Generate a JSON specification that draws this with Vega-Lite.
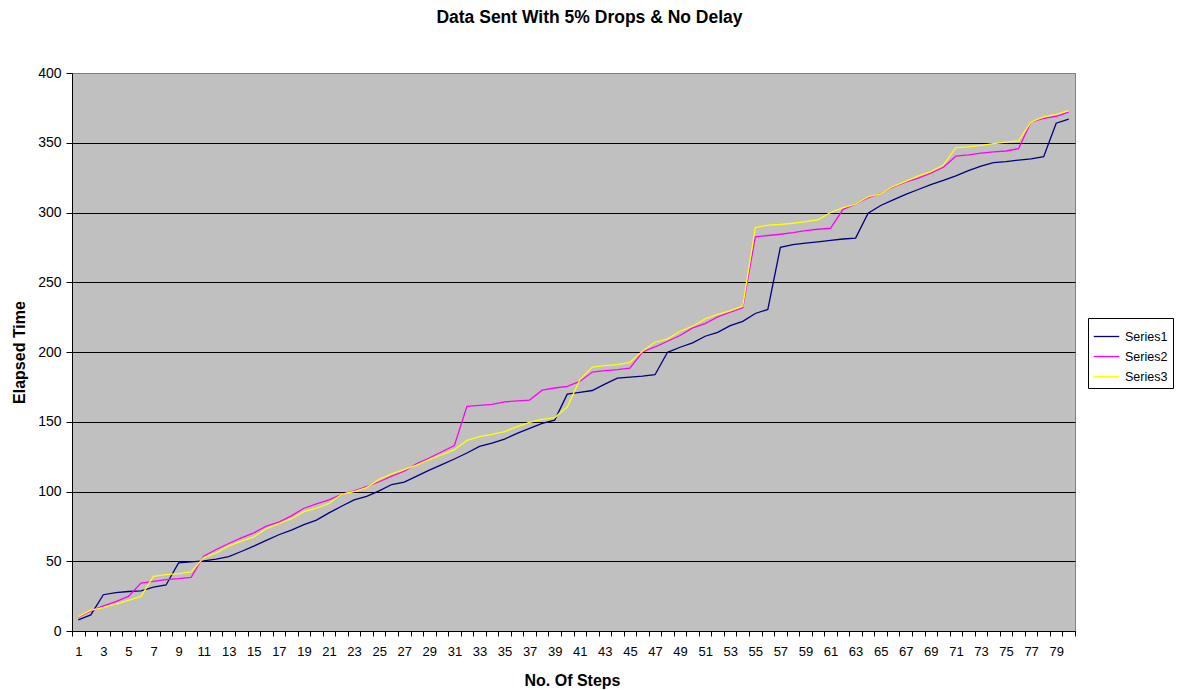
{
  "$schema": "https://vega.github.io/schema/vega-lite/v6.json",
  "width": 1003,
  "height": 558,
  "autosize": {"type": "none"},
  "padding": {"left": 72, "top": 73, "right": 109, "bottom": 59},
  "background": "white",
  "title": {
    "text": "Data Sent With 5% Drops & No Delay",
    "font": "Liberation Sans",
    "fontSize": 17.5,
    "fontWeight": "bold",
    "color": "black",
    "anchor": "middle",
    "baseline": "alphabetic",
    "offset": 26,
    "dx": 16
  },
  "config": {
    "font": "Liberation Sans",
    "view": {"fill": "#C0C0C0", "stroke": "#808080", "strokeWidth": 1}
  },
  "data": {
    "values": [
      {"step": 1, "Series1": 8, "Series2": 9.9, "Series3": 10.3},
      {"step": 2, "Series1": 11.5, "Series2": 14.4, "Series3": 15},
      {"step": 3, "Series1": 26, "Series2": 18, "Series3": 16.8},
      {"step": 4, "Series1": 27.5, "Series2": 21, "Series3": 19.2},
      {"step": 5, "Series1": 28.3, "Series2": 24.8, "Series3": 21.9},
      {"step": 6, "Series1": 28.8, "Series2": 34.4, "Series3": 24.8},
      {"step": 7, "Series1": 31.5, "Series2": 35.6, "Series3": 39.2},
      {"step": 8, "Series1": 33, "Series2": 36.8, "Series3": 40.4},
      {"step": 9, "Series1": 48.8, "Series2": 37.5, "Series3": 41.1},
      {"step": 10, "Series1": 49.5, "Series2": 38.5, "Series3": 42.3},
      {"step": 11, "Series1": 50.3, "Series2": 53.6, "Series3": 52.4},
      {"step": 12, "Series1": 51.5, "Series2": 58.4, "Series3": 56},
      {"step": 13, "Series1": 53.3, "Series2": 62.7, "Series3": 60.8},
      {"step": 14, "Series1": 57, "Series2": 66.8, "Series3": 64.4},
      {"step": 15, "Series1": 60.8, "Series2": 70.4, "Series3": 67.5},
      {"step": 16, "Series1": 65, "Series2": 75.2, "Series3": 73.3},
      {"step": 17, "Series1": 69, "Series2": 78, "Series3": 77},
      {"step": 18, "Series1": 72.3, "Series2": 82.5, "Series3": 80.5},
      {"step": 19, "Series1": 76.3, "Series2": 88, "Series3": 85.6},
      {"step": 20, "Series1": 79.5, "Series2": 91.2, "Series3": 88},
      {"step": 21, "Series1": 84.7, "Series2": 94, "Series3": 91.5},
      {"step": 22, "Series1": 89.4, "Series2": 98, "Series3": 98},
      {"step": 23, "Series1": 94, "Series2": 100.5, "Series3": 100},
      {"step": 24, "Series1": 96.5, "Series2": 103.5, "Series3": 102.8},
      {"step": 25, "Series1": 100.5, "Series2": 107, "Series3": 108.7},
      {"step": 26, "Series1": 105, "Series2": 111, "Series3": 112.7},
      {"step": 27, "Series1": 106.8, "Series2": 114.5, "Series3": 115.8},
      {"step": 28, "Series1": 111, "Series2": 120, "Series3": 118.9},
      {"step": 29, "Series1": 115.3, "Series2": 124, "Series3": 122.9},
      {"step": 30, "Series1": 119.3, "Series2": 128.5, "Series3": 126.4},
      {"step": 31, "Series1": 123.3, "Series2": 133, "Series3": 130},
      {"step": 32, "Series1": 127.6, "Series2": 161, "Series3": 136.6},
      {"step": 33, "Series1": 132.3, "Series2": 161.8, "Series3": 139.4},
      {"step": 34, "Series1": 134.7, "Series2": 162.5, "Series3": 141},
      {"step": 35, "Series1": 137.5, "Series2": 164.2, "Series3": 142.9},
      {"step": 36, "Series1": 141.7, "Series2": 164.9, "Series3": 146.5},
      {"step": 37, "Series1": 145.3, "Series2": 165.5, "Series3": 149.5},
      {"step": 38, "Series1": 148.8, "Series2": 172.6, "Series3": 151.7},
      {"step": 39, "Series1": 151.2, "Series2": 174.2, "Series3": 153},
      {"step": 40, "Series1": 169.8, "Series2": 175.3, "Series3": 160.5},
      {"step": 41, "Series1": 171, "Series2": 178.9, "Series3": 180},
      {"step": 42, "Series1": 172.4, "Series2": 185.6, "Series3": 189.2},
      {"step": 43, "Series1": 177, "Series2": 186.6, "Series3": 190.2},
      {"step": 44, "Series1": 181.3, "Series2": 187.3, "Series3": 190.9},
      {"step": 45, "Series1": 182, "Series2": 188.5, "Series3": 192.6},
      {"step": 46, "Series1": 182.7, "Series2": 200, "Series3": 200.5},
      {"step": 47, "Series1": 183.7, "Series2": 203.6, "Series3": 207},
      {"step": 48, "Series1": 199.8, "Series2": 207.7, "Series3": 209.4},
      {"step": 49, "Series1": 203.4, "Series2": 211.8, "Series3": 214.9},
      {"step": 50, "Series1": 206.5, "Series2": 217.3, "Series3": 218.5},
      {"step": 51, "Series1": 211.3, "Series2": 220.4, "Series3": 223.7},
      {"step": 52, "Series1": 214.1, "Series2": 225.2, "Series3": 226.9},
      {"step": 53, "Series1": 218.9, "Series2": 228.5, "Series3": 229.7},
      {"step": 54, "Series1": 222, "Series2": 231.7, "Series3": 232.9},
      {"step": 55, "Series1": 227.6, "Series2": 282.5, "Series3": 289.2},
      {"step": 56, "Series1": 230.5, "Series2": 283.5, "Series3": 290.9},
      {"step": 57, "Series1": 275, "Series2": 284.4, "Series3": 291.4},
      {"step": 58, "Series1": 277, "Series2": 285.5, "Series3": 292.3},
      {"step": 59, "Series1": 278, "Series2": 287, "Series3": 293.4},
      {"step": 60, "Series1": 279, "Series2": 288, "Series3": 294.8},
      {"step": 61, "Series1": 280, "Series2": 288.7, "Series3": 300},
      {"step": 62, "Series1": 281, "Series2": 302.3, "Series3": 303.5},
      {"step": 63, "Series1": 281.7, "Series2": 305.9, "Series3": 305.9},
      {"step": 64, "Series1": 299.5, "Series2": 310.6, "Series3": 311.3},
      {"step": 65, "Series1": 305, "Series2": 313.6, "Series3": 313.4},
      {"step": 66, "Series1": 309, "Series2": 318.3, "Series3": 318.8},
      {"step": 67, "Series1": 313, "Series2": 321.8, "Series3": 322.3},
      {"step": 68, "Series1": 316.5, "Series2": 324.6, "Series3": 326.3},
      {"step": 69, "Series1": 320, "Series2": 328.2, "Series3": 329.3},
      {"step": 70, "Series1": 323, "Series2": 332.4, "Series3": 334},
      {"step": 71, "Series1": 326.3, "Series2": 340.4, "Series3": 346.5},
      {"step": 72, "Series1": 330, "Series2": 341.3, "Series3": 347},
      {"step": 73, "Series1": 333.3, "Series2": 342.5, "Series3": 348.1},
      {"step": 74, "Series1": 335.7, "Series2": 343.4, "Series3": 349.3},
      {"step": 75, "Series1": 336.4, "Series2": 344.1, "Series3": 350.5},
      {"step": 76, "Series1": 337.6, "Series2": 345.8, "Series3": 351.4},
      {"step": 77, "Series1": 338.5, "Series2": 365, "Series3": 365},
      {"step": 78, "Series1": 340, "Series2": 367.4, "Series3": 368.5},
      {"step": 79, "Series1": 364, "Series2": 369, "Series3": 370.4},
      {"step": 80, "Series1": 367, "Series2": 372, "Series3": 373}
    ]
  },
  "transform": [
    {"fold": ["Series1", "Series2", "Series3"], "as": ["series", "value"]}
  ],
  "mark": {"type": "line", "strokeWidth": 1.3},
  "encoding": {
    "x": {
      "field": "step",
      "type": "ordinal",
      "scale": {"type": "band", "paddingInner": 0, "paddingOuter": 0},
      "axis": {
        "title": "No. Of Steps",
        "titleFont": "Liberation Sans",
        "titleFontSize": 16,
        "titleFontWeight": "bold",
        "titleColor": "black",
        "titleX": 500,
        "titleY": 54,
        "titleAlign": "center",
        "titleBaseline": "alphabetic",
        "labelAngle": 0,
        "labelFontSize": 13,
        "labelColor": "black",
        "labelPadding": 9,
        "labelOverlap": false,
        "labelExpr": "datum.value % 2 == 1 ? datum.label : ''",
        "tickBand": "extent",
        "tickSize": 5,
        "tickColor": "black",
        "domainColor": "black",
        "grid": false
      }
    },
    "y": {
      "field": "value",
      "type": "quantitative",
      "scale": {"domain": [0, 400], "nice": false},
      "axis": {
        "title": "Elapsed Time",
        "titleFont": "Liberation Sans",
        "titleFontSize": 16,
        "titleFontWeight": "bold",
        "titleColor": "black",
        "titleX": -48,
        "titleY": 279,
        "titleAngle": -90,
        "titleAlign": "center",
        "titleBaseline": "alphabetic",
        "values": [0, 50, 100, 150, 200, 250, 300, 350, 400],
        "labelFontSize": 14,
        "labelColor": "black",
        "labelPadding": 5,
        "tickSize": 6,
        "tickColor": "black",
        "domainColor": "black",
        "grid": true,
        "gridColor": {"condition": {"test": "datum.value == 400", "value": "#808080"}, "value": "black"},
        "gridOpacity": 1
      }
    },
    "color": {
      "field": "series",
      "type": "nominal",
      "scale": {"domain": ["Series1", "Series2", "Series3"], "range": ["#000080", "#FF00FF", "#FFFF00"]},
      "legend": {
        "title": null,
        "orient": "none",
        "legendX": 1016,
        "legendY": 245,
        "symbolType": "stroke",
        "symbolSize": 650,
        "symbolStrokeWidth": 1.3,
        "labelFontSize": 12.5,
        "labelColor": "black",
        "labelOffset": 5,
        "rowPadding": 0,
        "padding": 5,
        "strokeColor": "black",
        "fillColor": "white"
      }
    }
  }
}
